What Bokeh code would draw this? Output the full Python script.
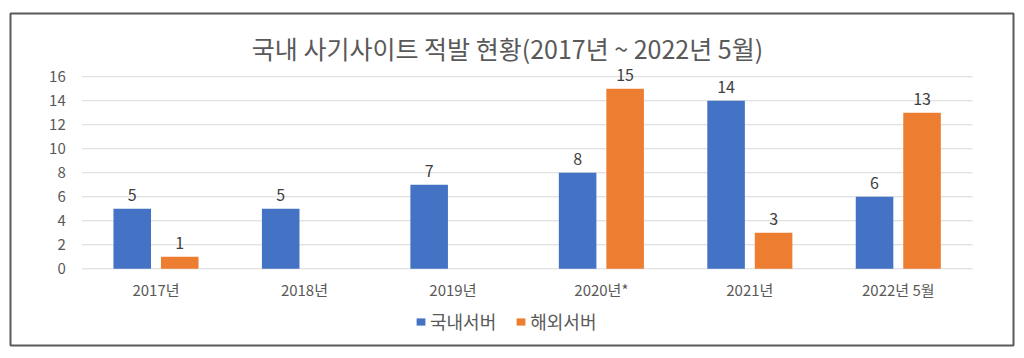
from bokeh.plotting import figure
from bokeh.models import (ColumnDataSource, Range1d, FixedTicker, LabelSet, Label,
                          Legend, LegendItem)
from bokeh.transform import dodge
from bokeh.core.properties import value
from bokeh.embed import file_html
from bokeh.resources import INLINE

categories = ["2017년", "2018년", "2019년", "2020년*", "2021년", "2022년 5월"]
domestic = [5, 5, 7, 8, 14, 6]
overseas = [1, None, None, 15, 3, 13]
series_names = ["국내서버", "해외서버"]
y_ticks = [0, 2, 4, 6, 8, 10, 12, 14, 16]
title_text = "국내 사기사이트 적발 현황(2017년 ~ 2022년 5월)"

BLUE = "#4472C4"
ORANGE = "#ED7D31"
GRID = "#D9D9D9"
TEXT = "#595959"
FONT = "Noto Sans CJK KR"

n = len(categories)
idx = list(range(n))
dom_vals = [float("nan") if v is None else v for v in domestic]
ovs_vals = [float("nan") if v is None else v for v in overseas]
src = ColumnDataSource(dict(idx=idx, dom=dom_vals, ovs=ovs_vals))

dom_lab = ColumnDataSource(dict(idx=[i for i, v in zip(idx, domestic) if v is not None],
                                val=[v for v in domestic if v is not None],
                                txt=[str(v) for v in domestic if v is not None]))
ovs_lab = ColumnDataSource(dict(idx=[i for i, v in zip(idx, overseas) if v is not None],
                                val=[v for v in overseas if v is not None],
                                txt=[str(v) for v in overseas if v is not None]))

p = figure(width=1024, height=358, output_backend="svg", toolbar_location=None,
           x_range=Range1d(-0.98, n - 1 + 0.776), y_range=Range1d(-6.39, 21.27),
           min_border_left=10, min_border_right=11, min_border_top=13, min_border_bottom=13)
p.title = None

p.outline_line_color = "#5A5A5A"
p.outline_line_width = 2
p.background_fill_color = "white"
p.border_fill_color = "white"
p.xgrid.visible = False
p.ygrid.visible = False

# horizontal gridlines across the category span
p.segment(x0=-0.5, x1=n - 0.5, y0=y_ticks, y1=y_ticks, line_color=GRID, line_width=1)

r1 = p.vbar(x=dodge("idx", -0.16), top="dom", width=0.253, source=src,
            color=BLUE, line_color=None)
r2 = p.vbar(x=dodge("idx", 0.16), top="ovs", width=0.253, source=src,
            color=ORANGE, line_color=None)

for s, off in ((dom_lab, -0.16), (ovs_lab, 0.16)):
    p.add_layout(LabelSet(x=dodge("idx", off), y="val", text="txt", source=s,
                          text_align="center", text_baseline="middle", y_offset=14,
                          text_font=value(FONT), text_font_size="16px", text_color="#404040"))

xa, ya = p.xaxis[0], p.yaxis[0]
xa.fixed_location = 0
ya.fixed_location = -0.5
xa.ticker = FixedTicker(ticks=idx)
xa.major_label_overrides = {i: c for i, c in zip(idx, categories)}
ya.ticker = FixedTicker(ticks=y_ticks)
for ax in (xa, ya):
    ax.axis_line_color = None
    ax.major_tick_line_color = None
    ax.minor_tick_line_color = None
    ax.major_tick_out = 0
    ax.major_tick_in = 0
    ax.minor_tick_out = 0
    ax.major_label_text_font = FONT
    ax.major_label_text_font_size = "15px"
    ax.major_label_text_color = TEXT
ya.major_label_standoff = 16
xa.major_label_standoff = 10

p.add_layout(Label(x=497, y=298, x_units="screen", y_units="screen", text=title_text,
                   text_align="center", text_baseline="middle", text_font=FONT,
                   text_font_size="25px", text_color=TEXT))

legend = Legend(items=[LegendItem(label=series_names[0], renderers=[r1]),
                       LegendItem(label=series_names[1], renderers=[r2])],
                orientation="horizontal", location=(405, 11),
                glyph_width=11, glyph_height=9, label_text_font=FONT,
                label_text_font_size="18px", label_text_color=TEXT,
                spacing=19, label_standoff=4, border_line_color=None,
                background_fill_alpha=0, margin=0, padding=0)
p.add_layout(legend)

open("out.html", "w").write(file_html(p, INLINE))
